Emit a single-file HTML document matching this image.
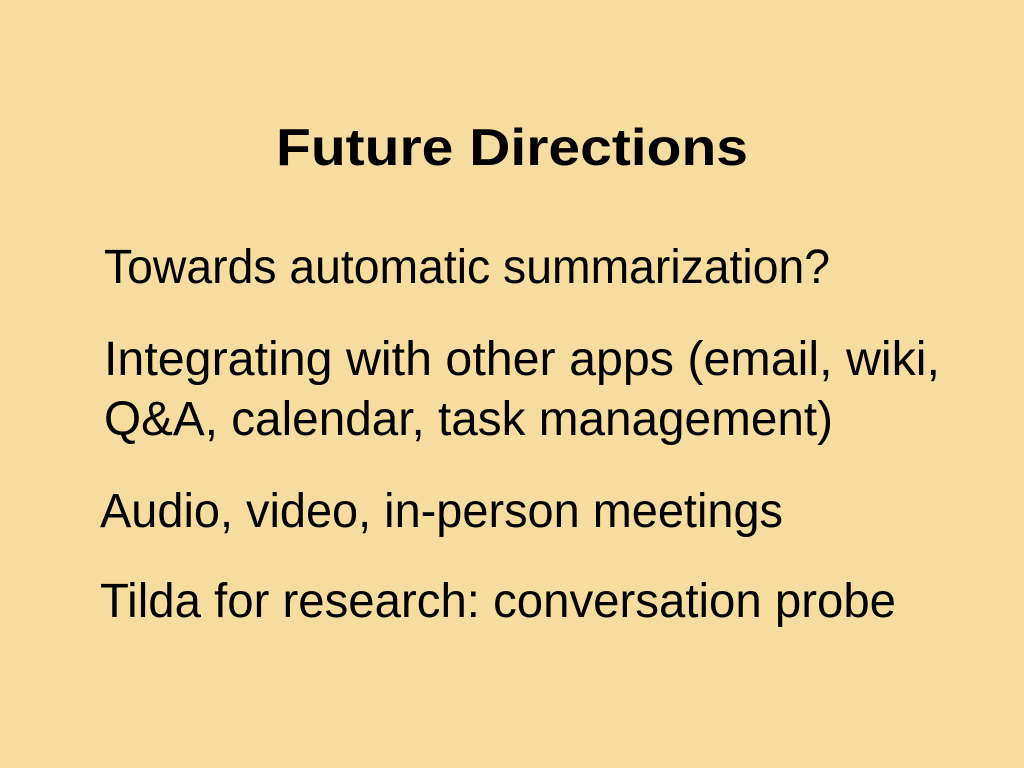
<!DOCTYPE html>
<html><head><meta charset="utf-8"><style>
html,body{margin:0;padding:0;background:#F7DC9F;}
svg{display:block;}
text{font-family:"Liberation Sans",sans-serif;fill:#000;}
</style></head><body>
<svg width="1024" height="768" viewBox="0 0 1024 768">
<rect width="1024" height="768" fill="#F7DC9F"/>
<text x="276" y="165" font-size="52" font-weight="bold" textLength="472" lengthAdjust="spacingAndGlyphs">Future Directions</text>
<text x="104" y="283" font-size="48" textLength="726" lengthAdjust="spacingAndGlyphs">Towards automatic summarization?</text>
<text x="104" y="375" font-size="48" textLength="836" lengthAdjust="spacingAndGlyphs">Integrating with other apps (email, wiki,</text>
<text x="104" y="435" font-size="48" textLength="729" lengthAdjust="spacingAndGlyphs">Q&amp;A, calendar, task management)</text>
<text x="100" y="527" font-size="48" textLength="683" lengthAdjust="spacingAndGlyphs">Audio, video, in-person meetings</text>
<text x="100" y="617" font-size="48" textLength="796" lengthAdjust="spacingAndGlyphs">Tilda for research: conversation probe</text>
</svg>
</body></html>
